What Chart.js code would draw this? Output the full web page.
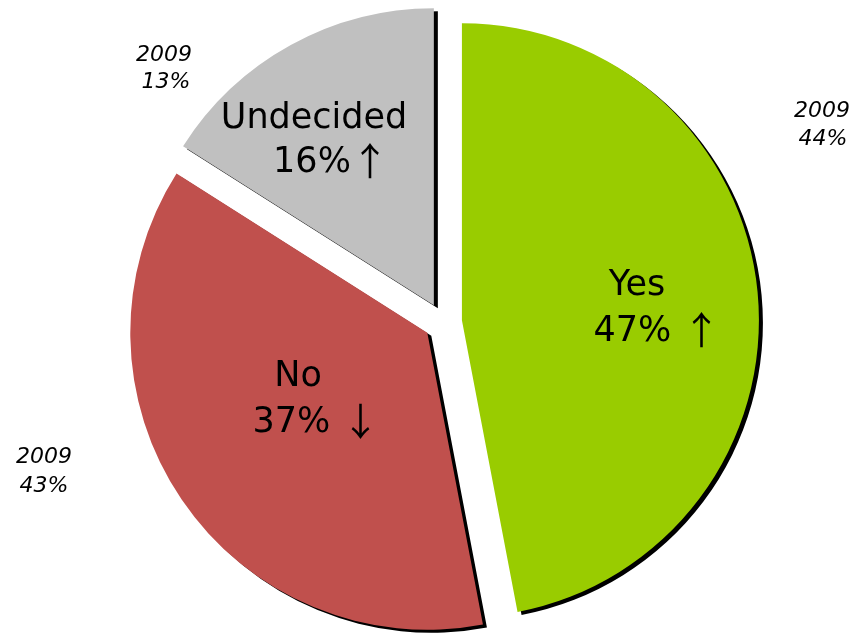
<!DOCTYPE html>
<html>
<head>
<meta charset="utf-8">
<script src="https://cdn.jsdelivr.net/npm/chart.js@4.4.0/dist/chart.umd.min.js"></script>
<style>
    html, body { margin: 0; padding: 0; background: #ffffff; }
    #wrap { width: 858px; height: 637px; position: relative; }
</style>
</head>
<body>
<div id="wrap"><canvas id="votePie"></canvas></div>
<script>
// answers, current share and the 2009 share
const categories = ['Yes', 'No', 'Undecided'];
const currentPct = [47, 37, 16];
const pct2009 = [44, 43, 13];
const trendArrows = ['\u2191', '\u2193', '\u2191'];
const arrowGap = [' ', ' ', ''];
const sliceColors = ['#99cc00', '#c0504d', '#c0c0c0'];

// label layout, px from the pie centre (centre x, baseline y)
const innerLabelPos = [
    [[194, -27], [214, 19]],
    [[-145, 64], [-127, 110]],
    [[-129, -194], [-112, -150]]
];
const outerLabelPos = [
    [[379, -205], [380, -177]],
    [[-399, 141], [-399, 170]],
    [[-279, -261], [-277, -234]]
];

const explode = 19;
const labelFont = '35px "DejaVu Sans"';
const arrowFont = '38px "Noto Sans CJK JP"';
const oldFont = 'italic 22px "DejaVu Sans"';

// -----------------------------
// Exploded slices with a hard black shadow
// -----------------------------
const explodedShadowPlugin = {
    id: 'explodedShadow',
    beforeDatasetsDraw(chart) {
        const ctx = chart.ctx;
        const meta = chart.getDatasetMeta(0);
        ctx.save();
        ctx.shadowColor = '#000000';
        ctx.shadowOffsetX = 4;
        ctx.shadowOffsetY = 3;
        ctx.shadowBlur = 0;
        meta.data.forEach(arc => {
            const mid = (arc.startAngle + arc.endAngle) / 2;
            ctx.save();
            ctx.translate(Math.cos(mid) * explode, Math.sin(mid) * explode);
            arc.draw(ctx);
            ctx.restore();
        });
        ctx.restore();
        return false;   // skip the default (non exploded) drawing
    },
    // labels go in afterDraw, afterDatasetsDraw is skipped once drawing is cancelled
    afterDraw(chart) {
        const ctx = chart.ctx;
        const arc0 = chart.getDatasetMeta(0).data[0];
        const cx = arc0.x;
        const cy = arc0.y;
        ctx.save();
        ctx.fillStyle = '#000000';
        ctx.textBaseline = 'alphabetic';
        categories.forEach((cat, i) => {
            // name
            let p = innerLabelPos[i][0];
            ctx.font = labelFont;
            ctx.textAlign = 'center';
            ctx.fillText(cat, cx + p[0], cy + p[1]);

            // percentage + trend arrow, arrow in its own font
            p = innerLabelPos[i][1];
            const pctText = currentPct[i] + '%' + arrowGap[i];
            ctx.font = labelFont;
            const w1 = ctx.measureText(pctText).width;
            ctx.font = arrowFont;
            const w2 = ctx.measureText(trendArrows[i]).width;
            const x0 = cx + p[0] - (w1 + w2) / 2;
            ctx.textAlign = 'left';
            ctx.font = labelFont;
            ctx.fillText(pctText, x0, cy + p[1]);
            ctx.font = arrowFont;
            ctx.fillText(trendArrows[i], x0 + w1, cy + p[1] + 3);

            // 2009 share
            ctx.font = oldFont;
            ctx.textAlign = 'center';
            const outer = ['2009', pct2009[i] + '%'];
            outer.forEach((txt, j) => {
                const q = outerLabelPos[i][j];
                ctx.fillText(txt, cx + q[0], cy + q[1]);
            });
        });
        ctx.restore();
    }
};

const canvas = document.getElementById('votePie');
new Chart(canvas, {
    type: 'pie',
    data: {
        labels: categories,
        datasets: [{
            data: currentPct,
            backgroundColor: sliceColors,
            borderWidth: 0,
            radius: 297
        }]
    },
    options: {
        responsive: true,
        maintainAspectRatio: false,
        animation: false,
        layout: {padding: {left: 28, right: 0, top: 7, bottom: 0}},
        plugins: {
            legend: {display: false},
            tooltip: {enabled: false}
        }
    },
    plugins: [explodedShadowPlugin]
});
</script>
</body>
</html>
